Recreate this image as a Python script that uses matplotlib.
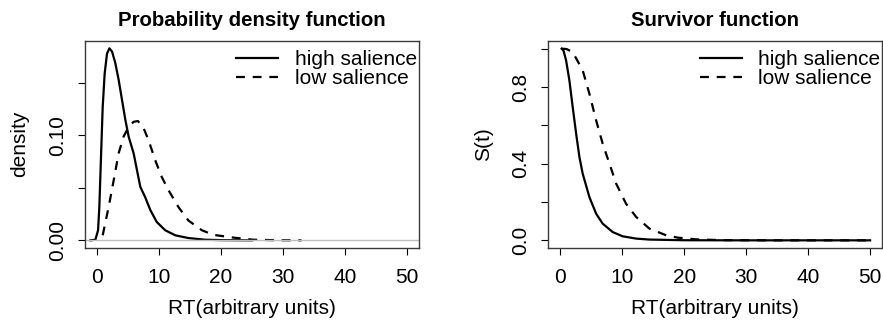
import matplotlib
matplotlib.use("Agg")
import matplotlib.pyplot as plt

plt.rcParams['font.family'] = ['Liberation Sans', 'DejaVu Sans']

# density curves
pdf_high_x = [-1.13, -0.32, 0.11, 0.32, 0.59, 0.86, 1.18, 1.56, 1.94, 2.37, 2.9, 3.44,
              3.98, 4.52, 5.05, 5.86, 6.4, 6.94, 7.74, 8.55, 9.6, 10.97, 12.6, 14.7,
              17.4, 20.0, 25.0]
pdf_high_y = [0.0, 0.0006, 0.0096, 0.032, 0.080, 0.127, 0.159, 0.178, 0.183, 0.180, 0.169,
              0.153, 0.134, 0.115, 0.099, 0.083, 0.067, 0.051, 0.041, 0.029, 0.0175,
              0.0096, 0.0048, 0.0022, 0.0006, 0.0002, 0.0]
pdf_low_x = [0.86, 1.83, 2.63, 3.44, 4.25, 5.05, 5.86, 6.56, 7.47, 8.27, 9.35, 10.4,
             11.5, 13.1, 14.7, 16.9, 18.8, 22.0, 25.2, 29.0, 33.0]
pdf_low_y = [0.0048, 0.032, 0.057, 0.083, 0.099, 0.108, 0.113, 0.1137, 0.107, 0.0955,
             0.0764, 0.0605, 0.0478, 0.0318, 0.019, 0.0096, 0.0052, 0.0026, 0.0006,
             0.0001, 0.0]

# survivor curves
surv_high_x = [0.2, 0.5, 0.92, 1.45, 1.99, 2.54, 3.07, 3.6, 4.68, 5.77, 6.83, 8.45,
               10.06, 12.23, 14.38, 20.0, 30.0, 50.0]
surv_high_y = [1.0, 0.99, 0.939, 0.835, 0.695, 0.557, 0.435, 0.348, 0.226, 0.139, 0.087,
               0.043, 0.021, 0.009, 0.004, 0.0005, 0.0, 0.0]
surv_low_x = [0.2, 1.0, 1.99, 3.6, 4.68, 5.77, 6.83, 7.92, 9.0, 10.6, 12.23, 14.38,
              17.1, 18.95, 22.0, 26.0, 35.0, 50.0]
surv_low_y = [1.0, 0.998, 0.982, 0.887, 0.765, 0.626, 0.504, 0.40, 0.296, 0.191, 0.122,
              0.061, 0.026, 0.014, 0.005, 0.001, 0.0, 0.0]

labels = ["high salience", "low salience"]
xticks = [0, 10, 20, 30, 40, 50]
pdf_yticks = [0.0, 0.05, 0.10, 0.15]
pdf_ylabels = ["0.00", "", "0.10", ""]
surv_yticks = [0.0, 0.2, 0.4, 0.6, 0.8, 1.0]
surv_ylabels = ["0.0", "", "0.4", "", "0.8", ""]

W, H = 883, 322
fig = plt.figure(figsize=(W / 100, H / 100), dpi=100)
FS = 15
LW = 1.6
DASH = (4, 3.5)


def px_axes(x0, y0, x1, y1):
    return fig.add_axes([x0 / W, 1 - y1 / H, (x1 - x0) / W, (y1 - y0) / H])


def style(ax, yticks, ylabels):
    ax.set_xlim(-2, 52)
    ax.set_xticks(xticks)
    ax.set_yticks(yticks)
    ax.set_yticklabels(ylabels, rotation=90, va="center")
    ax.tick_params(direction="out", length=5, width=0.8, labelsize=FS, pad=9.5)
    ax.tick_params(axis="y", pad=8)
    for s in ax.spines.values():
        s.set_color("#3a3a3a")
        s.set_linewidth(1.0)


ax1 = px_axes(85, 41, 419, 248)
ax1.plot(pdf_high_x, pdf_high_y, color="black", lw=LW, label=labels[0])
ax1.plot(pdf_low_x, pdf_low_y, color="black", lw=LW, ls=(0, DASH), label=labels[1])
ax1.axhline(0, color="#bebebe", lw=1.0)
ax1.set_ylim(-0.0073, 0.19)
style(ax1, pdf_yticks, pdf_ylabels)

ax2 = px_axes(548, 41, 882.5, 248)
ax2.plot(surv_high_x, surv_high_y, color="black", lw=LW, label=labels[0])
ax2.plot(surv_low_x, surv_low_y, color="black", lw=LW, ls=(0, DASH), label=labels[1])
ax2.set_ylim(-0.04, 1.04)
style(ax2, surv_yticks, surv_ylabels)

for ax in (ax1, ax2):
    leg = ax.legend(loc="upper right", bbox_to_anchor=(1.0, 0.965), frameon=False,
                    fontsize=FS, handlelength=2.0, handletextpad=0.8,
                    labelspacing=0.0, borderpad=0.1, borderaxespad=0.0)

# titles and axis labels
fig.text(252 / W, 1 - 20 / H, "Probability density function", ha="center", va="center",
         fontsize=14.7, fontweight="bold")
fig.text(715 / W, 1 - 20 / H, "Survivor function", ha="center", va="center",
         fontsize=14.7, fontweight="bold")
fig.text(252 / W, 1 - 309 / H, "RT(arbitrary units)", ha="center", va="center", fontsize=FS)
fig.text(715 / W, 1 - 309 / H, "RT(arbitrary units)", ha="center", va="center", fontsize=FS)
fig.text(20 / W, 1 - 144 / H, "density", ha="center", va="center", rotation=90, fontsize=FS)
fig.text(484 / W, 1 - 144 / H, "S(t)", ha="center", va="center", rotation=90, fontsize=FS)

fig.savefig("out.png", dpi=100)
